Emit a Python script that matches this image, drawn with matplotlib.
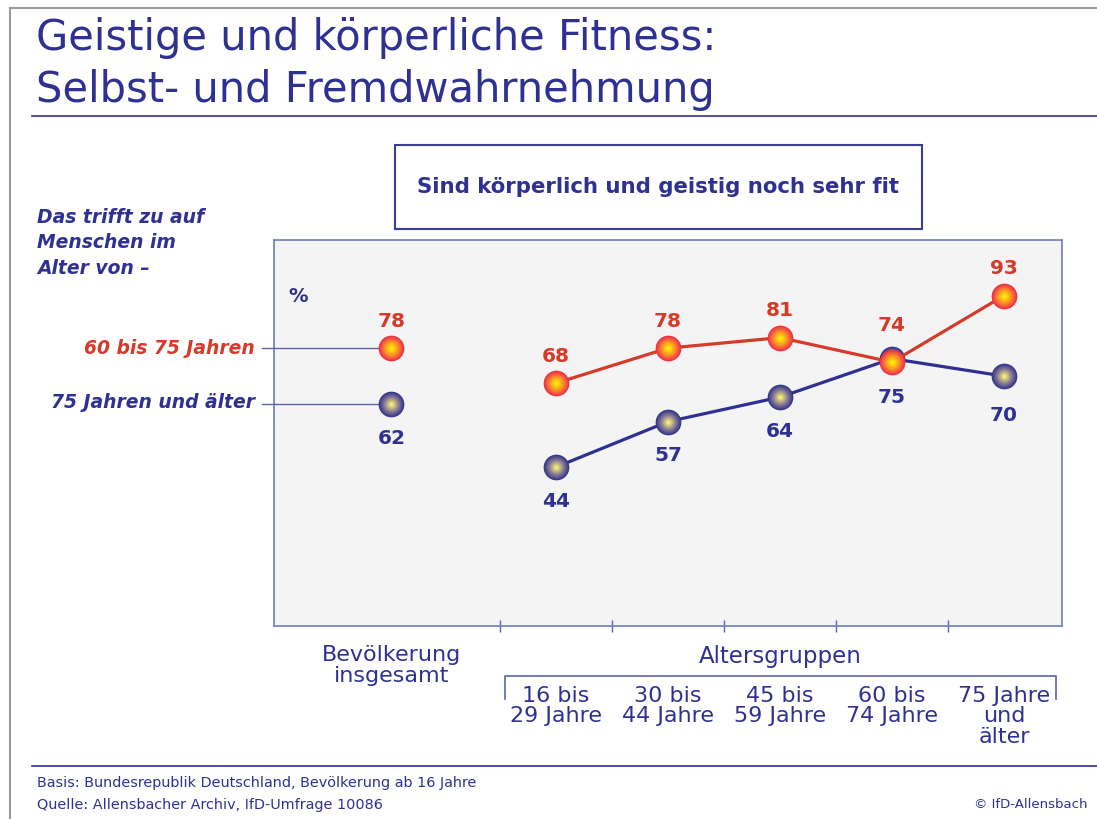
import matplotlib.pyplot as plt
import matplotlib.colors as mcolors
import numpy as np

# Daten
groups = ["Bevölkerung\ninsgesamt", "16 bis\n29 Jahre", "30 bis\n44 Jahre",
          "45 bis\n59 Jahre", "60 bis\n74 Jahre", "75 Jahre\nund\nälter"]
x_pos = [-0.47, 1, 2, 3, 4, 5]
fit_60_75 = [78, 68, 78, 81, 74, 93]
fit_75_plus = [62, 44, 57, 64, 75, 70]
series_names = ["60 bis 75 Jahren", "75 Jahren und älter"]

NAVY = "#2e3192"
RED = "#d63a2a"
plt.rcParams['font.family'] = ["DejaVu Sans"]

W, H = 1097, 820
fig = plt.figure(figsize=(W / 100, H / 100), dpi=100)


def fx(px):
    return px / W


def fy(py):
    return 1 - py / H


def ftext(px, py, s, **kw):
    fig.text(fx(px), fy(py), s, **kw)


def fline(xs, ys, **kw):
    fig.add_artist(plt.Line2D([fx(v) for v in xs], [fy(v) for v in ys], **kw))


# Rahmen oben / links
fline([10, 1097], [9, 9], color="#9a9a9a", lw=1.5)
fline([10, 10], [9, 820], color="#9a9a9a", lw=1.5)

# Titel
ftext(36, 38, "Geistige und körperliche Fitness:", fontsize=30, color=NAVY, va="center")
ftext(36, 90, "Selbst- und Fremdwahrnehmung", fontsize=30, color=NAVY, va="center")
fline([32, 1097], [117, 117], color=NAVY, lw=1.2)

# Kasten mit Frage
fig.add_artist(plt.Rectangle((fx(395), fy(230)), fx(922) - fx(395), fy(146) - fy(230),
                             fill=False, edgecolor="#3a3f95", lw=1.5))
ftext(658, 187, "Sind körperlich und geistig noch sehr fit", fontsize=15.3,
      fontweight="bold", color=NAVY, ha="center", va="center")

ftext(37, 243, "Das trifft zu auf\nMenschen im\nAlter von –", fontsize=13.5,
      fontweight="bold", style="italic", color=NAVY, va="center", linespacing=1.45)

# Diagramm
ax = fig.add_axes([fx(274), fy(627), fx(1062) - fx(274), fy(241) - fy(627)])
ax.set_facecolor("#f4f4f4")
ax.set_xlim(-1.518, 5.518)
ax.set_ylim(-1.4, 108.9)
for s in ax.spines.values():
    s.set_color("#7b84c0")
    s.set_linewidth(1.3)
ax.set_yticks([])
ax.set_xticks([0.5, 1.5, 2.5, 3.5, 4.5])
ax.set_xticklabels([])
ax.tick_params(axis="x", direction="inout", length=8, width=1, color="#5a62a8")

ax.text(-1.3, 93, "%", fontsize=14, fontweight="bold", color=NAVY, ha="center", va="center")


def balls(xs, ys, edge, mid, core, z, ms=18.5, n=16):
    e = np.array(mcolors.to_rgb(edge))
    m = np.array(mcolors.to_rgb(mid))
    c = np.array(mcolors.to_rgb(core))
    for i in range(n):
        t = i / (n - 1)
        if t < 0.45:
            k = t / 0.45
            col = e * (1 - k) + m * k
        else:
            k = (t - 0.45) / 0.55
            col = m * (1 - k) + c * k
        ax.plot(xs, ys, "o", ms=ms * (1 - 0.92 * t), color=col, mew=0, zorder=z + i * 0.01)


# Verbindungslinien zu den Legenden-Texten
for v in [fit_60_75[0], fit_75_plus[0]]:
    ax.plot([-1.625, x_pos[0]], [v, v], color="#5a62a8", lw=1, clip_on=False, zorder=3)

ax.plot(x_pos[1:], fit_75_plus[1:], color=NAVY, lw=2.3, zorder=4)
balls(x_pos, fit_75_plus, "#34358a", "#8a7d95", "#fbf276", 5)
ax.plot(x_pos[1:], fit_60_75[1:], color=RED, lw=2.3, zorder=6)
balls(x_pos, fit_60_75, "#ef2d48", "#fb8a2c", "#fff200", 7)

for x, v in zip(x_pos, fit_60_75):
    dy = 38 if v == 74 else 28
    ax.annotate(str(v), (x, v), xytext=(0, dy * 0.72), textcoords="offset points",
                ha="center", va="center", fontsize=14.5, fontweight="bold", color=RED)
for x, v in zip(x_pos, fit_75_plus):
    dy = 38 if v in (75, 70) else 33
    ax.annotate(str(v), (x, v), xytext=(0, -dy * 0.72), textcoords="offset points",
                ha="center", va="center", fontsize=14.5, fontweight="bold", color=NAVY)

# Legenden-Texte links
ftext(255, 349, series_names[0], fontsize=13.5, fontweight="bold", style="italic",
      color=RED, ha="right", va="center")
ftext(255, 403, series_names[1], fontsize=13.5, fontweight="bold", style="italic",
      color=NAVY, ha="right", va="center")

# Kategorien unter der Achse
trans = ax.get_xaxis_transform()


def ax_y(py):
    return (fy(py) - fy(627)) / (fy(241) - fy(627))


ax.text(x_pos[0], ax_y(645), groups[0], transform=trans, ha="center", va="top",
        fontsize=16, color=NAVY, linespacing=1.05)
for x, g in zip(x_pos[1:], groups[1:]):
    ax.text(x, ax_y(686), g, transform=trans, ha="center", va="top",
            fontsize=16, color=NAVY, linespacing=1.02)
ftext(780, 657, "Altersgruppen", fontsize=16.5, color=NAVY, ha="center", va="center")
fline([505, 505, 1056, 1056], [700, 677, 677, 700], color="#5a62a8", lw=1.2)

# Fußzeile
fline([32, 1097], [767, 767], color=NAVY, lw=1.2)
ftext(37, 783, "Basis: Bundesrepublik Deutschland, Bevölkerung ab 16 Jahre",
      fontsize=10.4, color=NAVY, va="center")
ftext(37, 805, "Quelle: Allensbacher Archiv, IfD-Umfrage 10086",
      fontsize=10.4, color=NAVY, va="center")
ftext(1088, 805, "© IfD-Allensbach", fontsize=9.5, color=NAVY, ha="right", va="center")

fig.savefig("out.png", dpi=100)
